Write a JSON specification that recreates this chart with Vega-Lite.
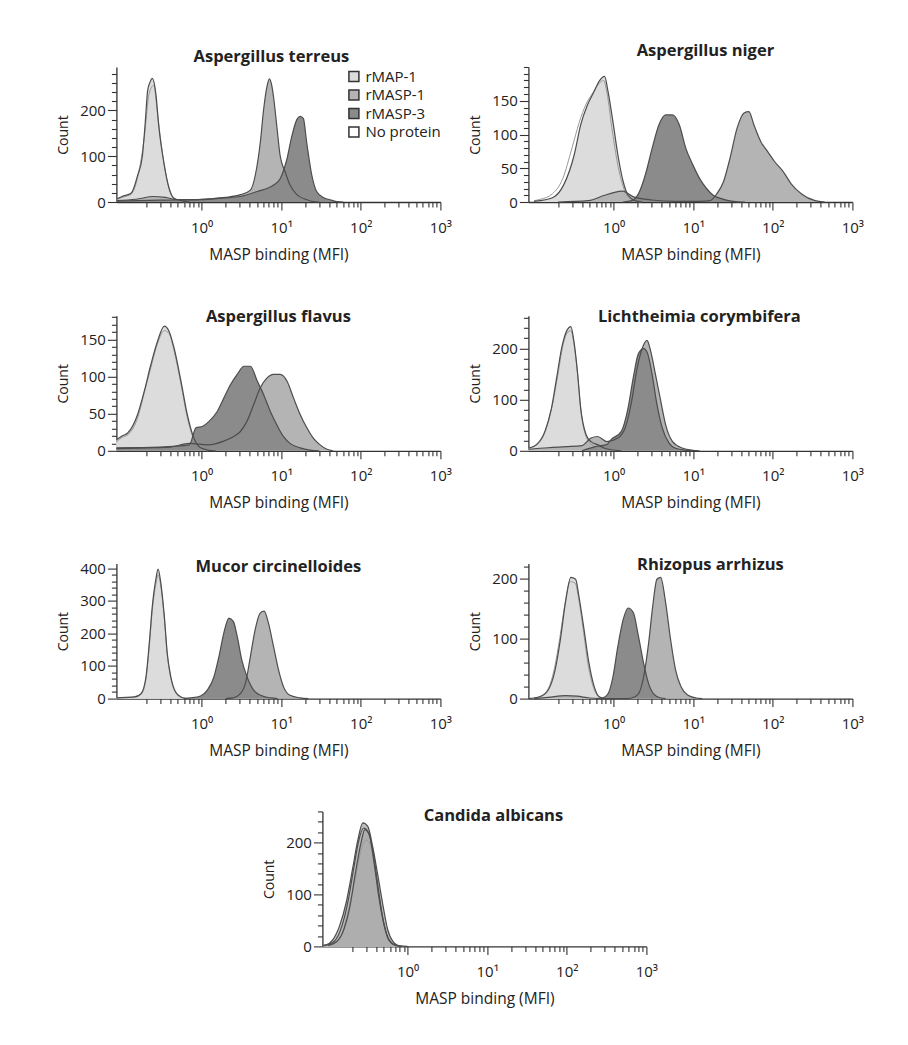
{
"$schema":"https://vega.github.io/schema/vega-lite/v6.json",
"padding":{"left":56,"top":42,"right":5,"bottom":5},
"background":"white",
"datasets":{
"terreus":[
{"series":"No protein","mfi":0.085,"count":5},{"series":"No protein","mfi":0.1,"count":10},{"series":"No protein","mfi":0.13,"count":17},{"series":"No protein","mfi":0.16,"count":60},{"series":"No protein","mfi":0.19,"count":140},{"series":"No protein","mfi":0.22,"count":238},{"series":"No protein","mfi":0.25,"count":255},{"series":"No protein","mfi":0.28,"count":190},{"series":"No protein","mfi":0.32,"count":110},{"series":"No protein","mfi":0.37,"count":45},{"series":"No protein","mfi":0.43,"count":12},{"series":"No protein","mfi":0.5,"count":3},{"series":"No protein","mfi":0.65,"count":0},
{"series":"rMAP-1","mfi":0.085,"count":6},{"series":"rMAP-1","mfi":0.1,"count":12},{"series":"rMAP-1","mfi":0.13,"count":19},{"series":"rMAP-1","mfi":0.157,"count":58},{"series":"rMAP-1","mfi":0.18,"count":100},{"series":"rMAP-1","mfi":0.195,"count":170},{"series":"rMAP-1","mfi":0.21,"count":244},{"series":"rMAP-1","mfi":0.225,"count":262},{"series":"rMAP-1","mfi":0.24,"count":270},{"series":"rMAP-1","mfi":0.266,"count":237},{"series":"rMAP-1","mfi":0.29,"count":165},{"series":"rMAP-1","mfi":0.34,"count":80},{"series":"rMAP-1","mfi":0.39,"count":30},{"series":"rMAP-1","mfi":0.45,"count":8},{"series":"rMAP-1","mfi":0.55,"count":3},{"series":"rMAP-1","mfi":0.7,"count":0},
{"series":"rMASP-1","mfi":0.085,"count":3},{"series":"rMASP-1","mfi":0.15,"count":6},{"series":"rMASP-1","mfi":0.25,"count":12},{"series":"rMASP-1","mfi":0.35,"count":10},{"series":"rMASP-1","mfi":0.5,"count":5},{"series":"rMASP-1","mfi":0.8,"count":5},{"series":"rMASP-1","mfi":1.2,"count":7},{"series":"rMASP-1","mfi":2,"count":10},{"series":"rMASP-1","mfi":3.07,"count":16},{"series":"rMASP-1","mfi":4.1,"count":26},{"series":"rMASP-1","mfi":4.73,"count":59},{"series":"rMASP-1","mfi":5.46,"count":130},{"series":"rMASP-1","mfi":6,"count":201},{"series":"rMASP-1","mfi":6.6,"count":251},{"series":"rMASP-1","mfi":7.1,"count":269},{"series":"rMASP-1","mfi":7.6,"count":255},{"series":"rMASP-1","mfi":8,"count":230},{"series":"rMASP-1","mfi":8.8,"count":166},{"series":"rMASP-1","mfi":9.7,"count":101},{"series":"rMASP-1","mfi":11.2,"count":66},{"series":"rMASP-1","mfi":12.9,"count":37},{"series":"rMASP-1","mfi":15.7,"count":16},{"series":"rMASP-1","mfi":21,"count":5},{"series":"rMASP-1","mfi":25.3,"count":1},{"series":"rMASP-1","mfi":30,"count":0},
{"series":"rMASP-3","mfi":0.085,"count":2},{"series":"rMASP-3","mfi":0.3,"count":4},{"series":"rMASP-3","mfi":0.97,"count":5},{"series":"rMASP-3","mfi":1.9,"count":9},{"series":"rMASP-3","mfi":3.07,"count":12},{"series":"rMASP-3","mfi":5,"count":23},{"series":"rMASP-3","mfi":8,"count":37},{"series":"rMASP-3","mfi":9.7,"count":51},{"series":"rMASP-3","mfi":11.8,"count":94},{"series":"rMASP-3","mfi":13.6,"count":144},{"series":"rMASP-3","mfi":15.7,"count":180},{"series":"rMASP-3","mfi":17.3,"count":187},{"series":"rMASP-3","mfi":19,"count":182},{"series":"rMASP-3","mfi":20.9,"count":130},{"series":"rMASP-3","mfi":24.2,"count":59},{"series":"rMASP-3","mfi":27.9,"count":23},{"series":"rMASP-3","mfi":33.8,"count":10},{"series":"rMASP-3","mfi":41,"count":5},{"series":"rMASP-3","mfi":50,"count":1},{"series":"rMASP-3","mfi":60,"count":0}
],
"niger":[
{"series":"No protein","mfi":0.1,"count":2},{"series":"No protein","mfi":0.12,"count":4},{"series":"No protein","mfi":0.17,"count":12},{"series":"No protein","mfi":0.23,"count":35},{"series":"No protein","mfi":0.3,"count":80},{"series":"No protein","mfi":0.37,"count":118},{"series":"No protein","mfi":0.45,"count":145},{"series":"No protein","mfi":0.55,"count":162},{"series":"No protein","mfi":0.65,"count":175},{"series":"No protein","mfi":0.75,"count":180},{"series":"No protein","mfi":0.83,"count":160},{"series":"No protein","mfi":0.95,"count":110},{"series":"No protein","mfi":1.1,"count":62},{"series":"No protein","mfi":1.3,"count":25},{"series":"No protein","mfi":1.5,"count":8},{"series":"No protein","mfi":1.8,"count":2},{"series":"No protein","mfi":2.2,"count":0},
{"series":"rMAP-1","mfi":0.1,"count":1},{"series":"rMAP-1","mfi":0.12,"count":2},{"series":"rMAP-1","mfi":0.175,"count":7},{"series":"rMAP-1","mfi":0.235,"count":25},{"series":"rMAP-1","mfi":0.32,"count":70},{"series":"rMAP-1","mfi":0.385,"count":114},{"series":"rMAP-1","mfi":0.47,"count":144},{"series":"rMAP-1","mfi":0.57,"count":164},{"series":"rMAP-1","mfi":0.66,"count":179},{"series":"rMAP-1","mfi":0.77,"count":186},{"series":"rMAP-1","mfi":0.85,"count":164},{"series":"rMAP-1","mfi":0.98,"count":119},{"series":"rMAP-1","mfi":1.13,"count":70},{"series":"rMAP-1","mfi":1.32,"count":30},{"series":"rMAP-1","mfi":1.52,"count":10},{"series":"rMAP-1","mfi":1.86,"count":2},{"series":"rMAP-1","mfi":2.3,"count":0},
{"series":"rMASP-1","mfi":0.2,"count":0},{"series":"rMASP-1","mfi":0.48,"count":2},{"series":"rMASP-1","mfi":0.77,"count":10},{"series":"rMASP-1","mfi":1,"count":14},{"series":"rMASP-1","mfi":1.3,"count":16},{"series":"rMASP-1","mfi":1.75,"count":8},{"series":"rMASP-1","mfi":3,"count":3},{"series":"rMASP-1","mfi":6,"count":1},{"series":"rMASP-1","mfi":12,"count":1},{"series":"rMASP-1","mfi":16.2,"count":2},{"series":"rMASP-1","mfi":19.7,"count":12},{"series":"rMASP-1","mfi":24,"count":30},{"series":"rMASP-1","mfi":29,"count":65},{"series":"rMASP-1","mfi":35.5,"count":109},{"series":"rMASP-1","mfi":43.5,"count":132},{"series":"rMASP-1","mfi":50,"count":134},{"series":"rMASP-1","mfi":58,"count":114},{"series":"rMASP-1","mfi":71,"count":89},{"series":"rMASP-1","mfi":87,"count":74},{"series":"rMASP-1","mfi":105,"count":60},{"series":"rMASP-1","mfi":135,"count":45},{"series":"rMASP-1","mfi":170,"count":27},{"series":"rMASP-1","mfi":230,"count":12},{"series":"rMASP-1","mfi":340,"count":2},{"series":"rMASP-1","mfi":450,"count":0},
{"series":"rMASP-3","mfi":1.3,"count":0},{"series":"rMASP-3","mfi":1.69,"count":2},{"series":"rMASP-3","mfi":2.05,"count":12},{"series":"rMASP-3","mfi":2.5,"count":40},{"series":"rMASP-3","mfi":3.04,"count":79},{"series":"rMASP-3","mfi":3.7,"count":114},{"series":"rMASP-3","mfi":4.5,"count":129},{"series":"rMASP-3","mfi":5.5,"count":129},{"series":"rMASP-3","mfi":6.7,"count":114},{"series":"rMASP-3","mfi":8.1,"count":79},{"series":"rMASP-3","mfi":9.9,"count":55},{"series":"rMASP-3","mfi":12,"count":35},{"series":"rMASP-3","mfi":14.7,"count":20},{"series":"rMASP-3","mfi":17.8,"count":10},{"series":"rMASP-3","mfi":24,"count":4},{"series":"rMASP-3","mfi":32,"count":1},{"series":"rMASP-3","mfi":45,"count":0}
],
"flavus":[
{"series":"No protein","mfi":0.085,"count":12},{"series":"No protein","mfi":0.1,"count":18},{"series":"No protein","mfi":0.12,"count":22},{"series":"No protein","mfi":0.16,"count":47},{"series":"No protein","mfi":0.19,"count":78},{"series":"No protein","mfi":0.23,"count":112},{"series":"No protein","mfi":0.28,"count":145},{"series":"No protein","mfi":0.34,"count":162},{"series":"No protein","mfi":0.39,"count":158},{"series":"No protein","mfi":0.45,"count":135},{"series":"No protein","mfi":0.55,"count":90},{"series":"No protein","mfi":0.66,"count":45},{"series":"No protein","mfi":0.8,"count":15},{"series":"No protein","mfi":0.97,"count":3},{"series":"No protein","mfi":1.2,"count":0},
{"series":"rMAP-1","mfi":0.085,"count":15},{"series":"rMAP-1","mfi":0.1,"count":20},{"series":"rMAP-1","mfi":0.118,"count":24},{"series":"rMAP-1","mfi":0.157,"count":49},{"series":"rMAP-1","mfi":0.19,"count":80},{"series":"rMAP-1","mfi":0.23,"count":116},{"series":"rMAP-1","mfi":0.28,"count":148},{"series":"rMAP-1","mfi":0.34,"count":168},{"series":"rMAP-1","mfi":0.39,"count":161},{"series":"rMAP-1","mfi":0.45,"count":139},{"series":"rMAP-1","mfi":0.55,"count":94},{"series":"rMAP-1","mfi":0.66,"count":49},{"series":"rMAP-1","mfi":0.8,"count":17},{"series":"rMAP-1","mfi":0.97,"count":4},{"series":"rMAP-1","mfi":1.2,"count":1},{"series":"rMAP-1","mfi":1.5,"count":0},
{"series":"rMASP-1","mfi":0.085,"count":3},{"series":"rMASP-1","mfi":0.2,"count":4},{"series":"rMASP-1","mfi":0.4,"count":5},{"series":"rMASP-1","mfi":0.7,"count":10},{"series":"rMASP-1","mfi":1.2,"count":8},{"series":"rMASP-1","mfi":1.9,"count":13},{"series":"rMASP-1","mfi":2.5,"count":19},{"series":"rMASP-1","mfi":3.07,"count":26},{"series":"rMASP-1","mfi":3.72,"count":40},{"series":"rMASP-1","mfi":4.5,"count":62},{"series":"rMASP-1","mfi":5.46,"count":85},{"series":"rMASP-1","mfi":6.6,"count":98},{"series":"rMASP-1","mfi":8,"count":103},{"series":"rMASP-1","mfi":9.7,"count":103},{"series":"rMASP-1","mfi":11.8,"count":94},{"series":"rMASP-1","mfi":14.3,"count":71},{"series":"rMASP-1","mfi":17.3,"count":49},{"series":"rMASP-1","mfi":21,"count":31},{"series":"rMASP-1","mfi":25.3,"count":17},{"series":"rMASP-1","mfi":30.8,"count":8},{"series":"rMASP-1","mfi":37.5,"count":2},{"series":"rMASP-1","mfi":45,"count":0},
{"series":"rMASP-3","mfi":0.085,"count":4},{"series":"rMASP-3","mfi":0.3,"count":5},{"series":"rMASP-3","mfi":0.7,"count":8},{"series":"rMASP-3","mfi":0.85,"count":31},{"series":"rMASP-3","mfi":1.03,"count":33},{"series":"rMASP-3","mfi":1.25,"count":40},{"series":"rMASP-3","mfi":1.57,"count":53},{"series":"rMASP-3","mfi":1.9,"count":71},{"series":"rMASP-3","mfi":2.3,"count":89},{"series":"rMASP-3","mfi":2.8,"count":103},{"series":"rMASP-3","mfi":3.4,"count":114},{"series":"rMASP-3","mfi":4.1,"count":114},{"series":"rMASP-3","mfi":5,"count":94},{"series":"rMASP-3","mfi":6,"count":76},{"series":"rMASP-3","mfi":7.3,"count":53},{"series":"rMASP-3","mfi":8.8,"count":35},{"series":"rMASP-3","mfi":10.7,"count":19},{"series":"rMASP-3","mfi":12.9,"count":10},{"series":"rMASP-3","mfi":17.3,"count":4},{"series":"rMASP-3","mfi":23,"count":1},{"series":"rMASP-3","mfi":30,"count":0}
],
"licht":[
{"series":"No protein","mfi":0.085,"count":5},{"series":"No protein","mfi":0.11,"count":12},{"series":"No protein","mfi":0.14,"count":40},{"series":"No protein","mfi":0.17,"count":90},{"series":"No protein","mfi":0.2,"count":150},{"series":"No protein","mfi":0.23,"count":205},{"series":"No protein","mfi":0.26,"count":230},{"series":"No protein","mfi":0.29,"count":235},{"series":"No protein","mfi":0.32,"count":205},{"series":"No protein","mfi":0.355,"count":145},{"series":"No protein","mfi":0.39,"count":78},{"series":"No protein","mfi":0.45,"count":28},{"series":"No protein","mfi":0.55,"count":10},{"series":"No protein","mfi":0.7,"count":3},{"series":"No protein","mfi":0.9,"count":0},
{"series":"rMAP-1","mfi":0.085,"count":5},{"series":"rMAP-1","mfi":0.107,"count":12},{"series":"rMAP-1","mfi":0.137,"count":38},{"series":"rMAP-1","mfi":0.166,"count":84},{"series":"rMAP-1","mfi":0.193,"count":144},{"series":"rMAP-1","mfi":0.224,"count":203},{"series":"rMAP-1","mfi":0.26,"count":236},{"series":"rMAP-1","mfi":0.29,"count":243},{"series":"rMAP-1","mfi":0.316,"count":216},{"series":"rMAP-1","mfi":0.35,"count":157},{"series":"rMAP-1","mfi":0.385,"count":84},{"series":"rMAP-1","mfi":0.45,"count":32},{"series":"rMAP-1","mfi":0.52,"count":18},{"series":"rMAP-1","mfi":0.63,"count":12},{"series":"rMAP-1","mfi":0.77,"count":5},{"series":"rMAP-1","mfi":0.93,"count":2},{"series":"rMAP-1","mfi":1.25,"count":0},
{"series":"rMASP-1","mfi":0.085,"count":3},{"series":"rMASP-1","mfi":0.15,"count":6},{"series":"rMASP-1","mfi":0.25,"count":8},{"series":"rMASP-1","mfi":0.4,"count":10},{"series":"rMASP-1","mfi":0.52,"count":25},{"series":"rMASP-1","mfi":0.63,"count":28},{"series":"rMASP-1","mfi":0.82,"count":18},{"series":"rMASP-1","mfi":1.13,"count":25},{"series":"rMASP-1","mfi":1.4,"count":45},{"series":"rMASP-1","mfi":1.69,"count":98},{"series":"rMASP-1","mfi":1.95,"count":157},{"series":"rMASP-1","mfi":2.25,"count":197},{"series":"rMASP-1","mfi":2.63,"count":216},{"series":"rMASP-1","mfi":2.9,"count":197},{"series":"rMASP-1","mfi":3.35,"count":150},{"series":"rMASP-1","mfi":3.9,"count":98},{"series":"rMASP-1","mfi":4.5,"count":51},{"series":"rMASP-1","mfi":5.5,"count":18},{"series":"rMASP-1","mfi":7.4,"count":5},{"series":"rMASP-1","mfi":9.9,"count":1},{"series":"rMASP-1","mfi":12,"count":0},
{"series":"rMASP-3","mfi":0.4,"count":0},{"series":"rMASP-3","mfi":0.63,"count":9},{"series":"rMASP-3","mfi":0.82,"count":12},{"series":"rMASP-3","mfi":0.93,"count":22},{"series":"rMASP-3","mfi":1.25,"count":38},{"series":"rMASP-3","mfi":1.52,"count":84},{"series":"rMASP-3","mfi":1.77,"count":144},{"series":"rMASP-3","mfi":2.05,"count":190},{"series":"rMASP-3","mfi":2.38,"count":200},{"series":"rMASP-3","mfi":2.63,"count":193},{"series":"rMASP-3","mfi":3.04,"count":150},{"series":"rMASP-3","mfi":3.5,"count":91},{"series":"rMASP-3","mfi":4.08,"count":45},{"series":"rMASP-3","mfi":4.97,"count":15},{"series":"rMASP-3","mfi":6,"count":5},{"series":"rMASP-3","mfi":8.1,"count":1},{"series":"rMASP-3","mfi":10,"count":0}
],
"mucor":[
{"series":"No protein","mfi":0.085,"count":2},{"series":"No protein","mfi":0.14,"count":4},{"series":"No protein","mfi":0.175,"count":14},{"series":"No protein","mfi":0.2,"count":60},{"series":"No protein","mfi":0.22,"count":160},{"series":"No protein","mfi":0.24,"count":270},{"series":"No protein","mfi":0.266,"count":350},{"series":"No protein","mfi":0.285,"count":380},{"series":"No protein","mfi":0.307,"count":345},{"series":"No protein","mfi":0.34,"count":245},{"series":"No protein","mfi":0.37,"count":135},{"series":"No protein","mfi":0.41,"count":62},{"series":"No protein","mfi":0.47,"count":18},{"series":"No protein","mfi":0.55,"count":4},{"series":"No protein","mfi":0.66,"count":0},
{"series":"rMAP-1","mfi":0.085,"count":2},{"series":"rMAP-1","mfi":0.097,"count":3},{"series":"rMAP-1","mfi":0.143,"count":5},{"series":"rMAP-1","mfi":0.173,"count":15},{"series":"rMAP-1","mfi":0.2,"count":67},{"series":"rMAP-1","mfi":0.22,"count":170},{"series":"rMAP-1","mfi":0.24,"count":283},{"series":"rMAP-1","mfi":0.266,"count":366},{"series":"rMAP-1","mfi":0.284,"count":397},{"series":"rMAP-1","mfi":0.307,"count":355},{"series":"rMAP-1","mfi":0.34,"count":252},{"series":"rMAP-1","mfi":0.37,"count":139},{"series":"rMAP-1","mfi":0.41,"count":67},{"series":"rMAP-1","mfi":0.47,"count":21},{"series":"rMAP-1","mfi":0.55,"count":5},{"series":"rMAP-1","mfi":0.66,"count":0},
{"series":"rMASP-1","mfi":2,"count":0},{"series":"rMASP-1","mfi":2.5,"count":2},{"series":"rMASP-1","mfi":3.07,"count":15},{"series":"rMASP-1","mfi":3.55,"count":46},{"series":"rMASP-1","mfi":4.1,"count":129},{"series":"rMASP-1","mfi":4.7,"count":211},{"series":"rMASP-1","mfi":5.46,"count":263},{"series":"rMASP-1","mfi":6.1,"count":268},{"series":"rMASP-1","mfi":6.9,"count":232},{"series":"rMASP-1","mfi":8,"count":160},{"series":"rMASP-1","mfi":9.25,"count":88},{"series":"rMASP-1","mfi":10.7,"count":36},{"series":"rMASP-1","mfi":12.9,"count":10},{"series":"rMASP-1","mfi":17.3,"count":2},{"series":"rMASP-1","mfi":22,"count":0},
{"series":"rMASP-3","mfi":0.6,"count":0},{"series":"rMASP-3","mfi":0.73,"count":2},{"series":"rMASP-3","mfi":0.97,"count":8},{"series":"rMASP-3","mfi":1.18,"count":26},{"series":"rMASP-3","mfi":1.43,"count":67},{"series":"rMASP-3","mfi":1.65,"count":129},{"series":"rMASP-3","mfi":1.9,"count":201},{"series":"rMASP-3","mfi":2.2,"count":247},{"series":"rMASP-3","mfi":2.5,"count":237},{"series":"rMASP-3","mfi":2.8,"count":191},{"series":"rMASP-3","mfi":3.2,"count":118},{"series":"rMASP-3","mfi":3.72,"count":67},{"series":"rMASP-3","mfi":4.5,"count":26},{"series":"rMASP-3","mfi":5.5,"count":10},{"series":"rMASP-3","mfi":7.3,"count":2},{"series":"rMASP-3","mfi":9,"count":0}
],
"rhizopus":[
{"series":"No protein","mfi":0.1,"count":0},{"series":"No protein","mfi":0.12,"count":4},{"series":"No protein","mfi":0.15,"count":16},{"series":"No protein","mfi":0.18,"count":50},{"series":"No protein","mfi":0.21,"count":100},{"series":"No protein","mfi":0.245,"count":158},{"series":"No protein","mfi":0.285,"count":195},{"series":"No protein","mfi":0.33,"count":192},{"series":"No protein","mfi":0.365,"count":165},{"series":"No protein","mfi":0.42,"count":110},{"series":"No protein","mfi":0.48,"count":55},{"series":"No protein","mfi":0.56,"count":18},{"series":"No protein","mfi":0.65,"count":3},{"series":"No protein","mfi":0.77,"count":0},
{"series":"rMAP-1","mfi":0.085,"count":0},{"series":"rMAP-1","mfi":0.118,"count":3},{"series":"rMAP-1","mfi":0.15,"count":14},{"series":"rMAP-1","mfi":0.184,"count":48},{"series":"rMAP-1","mfi":0.214,"count":98},{"series":"rMAP-1","mfi":0.248,"count":160},{"series":"rMAP-1","mfi":0.29,"count":202},{"series":"rMAP-1","mfi":0.333,"count":199},{"series":"rMAP-1","mfi":0.366,"count":171},{"series":"rMAP-1","mfi":0.425,"count":115},{"series":"rMAP-1","mfi":0.49,"count":59},{"series":"rMAP-1","mfi":0.57,"count":20},{"series":"rMAP-1","mfi":0.66,"count":3},{"series":"rMAP-1","mfi":0.77,"count":0},
{"series":"rMASP-1","mfi":0.1,"count":0},{"series":"rMASP-1","mfi":0.15,"count":2},{"series":"rMASP-1","mfi":0.25,"count":5},{"series":"rMASP-1","mfi":0.35,"count":4},{"series":"rMASP-1","mfi":0.5,"count":1},{"series":"rMASP-1","mfi":0.8,"count":0},{"series":"rMASP-1","mfi":1.4,"count":0},{"series":"rMASP-1","mfi":1.69,"count":1},{"series":"rMASP-1","mfi":2.05,"count":8},{"series":"rMASP-1","mfi":2.38,"count":36},{"series":"rMASP-1","mfi":2.75,"count":92},{"series":"rMASP-1","mfi":3.1,"count":154},{"series":"rMASP-1","mfi":3.5,"count":199},{"series":"rMASP-1","mfi":3.9,"count":202},{"series":"rMASP-1","mfi":4.5,"count":160},{"series":"rMASP-1","mfi":5.2,"count":98},{"series":"rMASP-1","mfi":6,"count":48},{"series":"rMASP-1","mfi":7,"count":20},{"series":"rMASP-1","mfi":8.5,"count":6},{"series":"rMASP-1","mfi":10.9,"count":1},{"series":"rMASP-1","mfi":13,"count":0},
{"series":"rMASP-3","mfi":0.6,"count":0},{"series":"rMASP-3","mfi":0.73,"count":1},{"series":"rMASP-3","mfi":0.85,"count":8},{"series":"rMASP-3","mfi":0.98,"count":36},{"series":"rMASP-3","mfi":1.13,"count":87},{"series":"rMASP-3","mfi":1.32,"count":132},{"series":"rMASP-3","mfi":1.52,"count":151},{"series":"rMASP-3","mfi":1.77,"count":143},{"series":"rMASP-3","mfi":2.05,"count":104},{"series":"rMASP-3","mfi":2.38,"count":59},{"series":"rMASP-3","mfi":2.75,"count":25},{"series":"rMASP-3","mfi":3.18,"count":8},{"series":"rMASP-3","mfi":3.9,"count":1},{"series":"rMASP-3","mfi":4.5,"count":0}
],
"candida":[
{"series":"No protein","mfi":0.09,"count":1},{"series":"No protein","mfi":0.12,"count":5},{"series":"No protein","mfi":0.15,"count":25},{"series":"No protein","mfi":0.18,"count":70},{"series":"No protein","mfi":0.22,"count":130},{"series":"No protein","mfi":0.26,"count":185},{"series":"No protein","mfi":0.3,"count":205},{"series":"No protein","mfi":0.34,"count":195},{"series":"No protein","mfi":0.4,"count":140},{"series":"No protein","mfi":0.46,"count":80},{"series":"No protein","mfi":0.52,"count":35},{"series":"No protein","mfi":0.6,"count":10},{"series":"No protein","mfi":0.72,"count":1},{"series":"No protein","mfi":0.9,"count":0},
{"series":"rMAP-1","mfi":0.09,"count":2},{"series":"rMAP-1","mfi":0.12,"count":10},{"series":"rMAP-1","mfi":0.15,"count":40},{"series":"rMAP-1","mfi":0.18,"count":90},{"series":"rMAP-1","mfi":0.21,"count":150},{"series":"rMAP-1","mfi":0.24,"count":200},{"series":"rMAP-1","mfi":0.28,"count":228},{"series":"rMAP-1","mfi":0.32,"count":220},{"series":"rMAP-1","mfi":0.37,"count":180},{"series":"rMAP-1","mfi":0.42,"count":120},{"series":"rMAP-1","mfi":0.48,"count":60},{"series":"rMAP-1","mfi":0.55,"count":22},{"series":"rMAP-1","mfi":0.65,"count":5},{"series":"rMAP-1","mfi":0.8,"count":0},
{"series":"rMASP-1","mfi":0.085,"count":2},{"series":"rMASP-1","mfi":0.095,"count":3},{"series":"rMASP-1","mfi":0.115,"count":13},{"series":"rMASP-1","mfi":0.14,"count":40},{"series":"rMASP-1","mfi":0.17,"count":86},{"series":"rMASP-1","mfi":0.205,"count":152},{"series":"rMASP-1","mfi":0.237,"count":205},{"series":"rMASP-1","mfi":0.274,"count":238},{"series":"rMASP-1","mfi":0.316,"count":231},{"series":"rMASP-1","mfi":0.365,"count":191},{"series":"rMASP-1","mfi":0.42,"count":139},{"series":"rMASP-1","mfi":0.49,"count":79},{"series":"rMASP-1","mfi":0.56,"count":33},{"series":"rMASP-1","mfi":0.65,"count":10},{"series":"rMASP-1","mfi":0.79,"count":1},{"series":"rMASP-1","mfi":1,"count":0},
{"series":"rMASP-3","mfi":0.1,"count":2},{"series":"rMASP-3","mfi":0.13,"count":10},{"series":"rMASP-3","mfi":0.16,"count":35},{"series":"rMASP-3","mfi":0.19,"count":80},{"series":"rMASP-3","mfi":0.22,"count":140},{"series":"rMASP-3","mfi":0.26,"count":200},{"series":"rMASP-3","mfi":0.29,"count":225},{"series":"rMASP-3","mfi":0.33,"count":215},{"series":"rMASP-3","mfi":0.38,"count":160},{"series":"rMASP-3","mfi":0.43,"count":100},{"series":"rMASP-3","mfi":0.5,"count":45},{"series":"rMASP-3","mfi":0.58,"count":12},{"series":"rMASP-3","mfi":0.7,"count":2},{"series":"rMASP-3","mfi":0.85,"count":0}
]
},
"center":true,
"spacing":44.8,
"resolve":{"scale":{"fill":"independent"},"legend":{"fill":"independent"}},
"vconcat":[
{"hconcat":[
{"width":324,"height":135,"data":{"name":"terreus"},
"title":{"text":"Aspergillus terreus","offset":1,"dx":-7},
"encoding":{
"x":{"field":"mfi","type":"quantitative","scale":{"type":"log","domain":[0.085,1000],"nice":false},"axis":{"title":"MASP binding (MFI)","values":[0.2,0.3,0.4,0.5,0.6,0.7,0.8,0.9,1,2,3,4,5,6,7,8,9,10,20,30,40,50,60,70,80,90,100,200,300,400,500,600,700,800,900,1000],"labelExpr":"datum.value == 1 ? '10⁰' : datum.value == 10 ? '10¹' : datum.value == 100 ? '10²' : datum.value == 1000 ? '10³' : ''","tickSize":{"condition":{"test":"datum.value == 1 || datum.value == 10 || datum.value == 100 || datum.value == 1000","value":8},"value":5},"labelOverlap":false,"labelFlush":false}},
"y":{"field":"count","type":"quantitative","stack":null,"scale":{"domain":[0,295],"nice":false},"axis":{"title":"Count","values":[0,20,40,60,80,100,120,140,160,180,200,220,240,260,280],"labelExpr":"datum.value % 100 === 0 ? datum.label : ''","tickSize":{"condition":{"test":"datum.value % 100 === 0","value":9},"value":5},"labelOverlap":false}}
},
"layer":[
{"transform":[{"filter":"datum.series === 'No protein'"}],"mark":"area","encoding":{"fill":{"field":"series","type":"nominal","scale":{"domain":["rMAP-1","rMASP-1","rMASP-3","No protein"],"range":["#dcdcdc","#b4b4b4","#8b8b8b","#ffffff"]},"legend":{"orient":"none","legendX":230,"legendY":2,"title":null,"symbolType":"square","symbolSize":100,"symbolStrokeColor":"#333333","symbolStrokeWidth":1.5,"symbolOpacity":1,"labelFontSize":15,"labelFont":"Open Sans","labelColor":"#222222","rowPadding":1.5,"labelOffset":4}}}},
{"transform":[{"filter":"datum.series === 'rMAP-1'"}],"mark":"area","encoding":{"fill":{"field":"series","type":"nominal","scale":{"domain":["rMAP-1","rMASP-1","rMASP-3","No protein"],"range":["#dcdcdc","#b4b4b4","#8b8b8b","#ffffff"]}}}},
{"transform":[{"filter":"datum.series === 'rMASP-1'"}],"mark":"area","encoding":{"fill":{"field":"series","type":"nominal","scale":{"domain":["rMAP-1","rMASP-1","rMASP-3","No protein"],"range":["#dcdcdc","#b4b4b4","#8b8b8b","#ffffff"]}}}},
{"transform":[{"filter":"datum.series === 'rMASP-3'"}],"mark":"area","encoding":{"fill":{"field":"series","type":"nominal","scale":{"domain":["rMAP-1","rMASP-1","rMASP-3","No protein"],"range":["#dcdcdc","#b4b4b4","#8b8b8b","#ffffff"]}}}},
{"transform":[{"filter":"datum.series === 'No protein'"}],"mark":{"type":"line","stroke":"#9a9a9a","strokeWidth":1},"encoding":{}},
{"transform":[{"filter":"datum.series !== 'No protein'"}],"mark":{"type":"line","stroke":"#4d4d4d"},"encoding":{"detail":{"field":"series","type":"nominal"}}}
]},
{"width":324,"height":135,"data":{"name":"niger"},
"title":{"text":"Aspergillus niger","offset":1,"dx":15},
"encoding":{
"x":{"field":"mfi","type":"quantitative","scale":{"type":"log","domain":[0.085,1000],"nice":false},"axis":{"title":"MASP binding (MFI)","values":[0.2,0.3,0.4,0.5,0.6,0.7,0.8,0.9,1,2,3,4,5,6,7,8,9,10,20,30,40,50,60,70,80,90,100,200,300,400,500,600,700,800,900,1000],"labelExpr":"datum.value == 1 ? '10⁰' : datum.value == 10 ? '10¹' : datum.value == 100 ? '10²' : datum.value == 1000 ? '10³' : ''","tickSize":{"condition":{"test":"datum.value == 1 || datum.value == 10 || datum.value == 100 || datum.value == 1000","value":8},"value":5},"labelOverlap":false,"labelFlush":false}},
"y":{"field":"count","type":"quantitative","stack":null,"scale":{"domain":[0,200],"nice":false},"axis":{"title":"Count","values":[0,10,20,30,40,50,60,70,80,90,100,110,120,130,140,150,160,170,180,190,200],"labelExpr":"datum.value % 50 === 0 && datum.value < 200 ? datum.label : ''","tickSize":{"condition":{"test":"datum.value % 50 === 0 && datum.value < 200","value":9},"value":5},"labelOverlap":false}}
},
"layer":[
{"transform":[{"filter":"datum.series === 'No protein'"}],"mark":{"type":"area","fill":"#ffffff"},"encoding":{}},
{"transform":[{"filter":"datum.series === 'rMAP-1'"}],"mark":{"type":"area","fill":"#dcdcdc"},"encoding":{}},
{"transform":[{"filter":"datum.series === 'rMASP-1'"}],"mark":{"type":"area","fill":"#b4b4b4"},"encoding":{}},
{"transform":[{"filter":"datum.series === 'rMASP-3'"}],"mark":{"type":"area","fill":"#8b8b8b"},"encoding":{}},
{"transform":[{"filter":"datum.series === 'No protein'"}],"mark":{"type":"line","stroke":"#9a9a9a","strokeWidth":1},"encoding":{}},
{"transform":[{"filter":"datum.series !== 'No protein'"}],"mark":{"type":"line","stroke":"#4d4d4d"},"encoding":{"detail":{"field":"series","type":"nominal"}}}
]}
],"spacing":16,"resolve":{"scale":{"fill":"independent"},"legend":{"fill":"independent"}}},
{"hconcat":[
{"width":324,"height":135,"data":{"name":"flavus"},
"title":{"text":"Aspergillus flavus","offset":-15,"dx":0},
"encoding":{
"x":{"field":"mfi","type":"quantitative","scale":{"type":"log","domain":[0.085,1000],"nice":false},"axis":{"title":"MASP binding (MFI)","values":[0.2,0.3,0.4,0.5,0.6,0.7,0.8,0.9,1,2,3,4,5,6,7,8,9,10,20,30,40,50,60,70,80,90,100,200,300,400,500,600,700,800,900,1000],"labelExpr":"datum.value == 1 ? '10⁰' : datum.value == 10 ? '10¹' : datum.value == 100 ? '10²' : datum.value == 1000 ? '10³' : ''","tickSize":{"condition":{"test":"datum.value == 1 || datum.value == 10 || datum.value == 100 || datum.value == 1000","value":8},"value":5},"labelOverlap":false,"labelFlush":false}},
"y":{"field":"count","type":"quantitative","stack":null,"scale":{"domain":[0,182],"nice":false},"axis":{"title":"Count","values":[0,10,20,30,40,50,60,70,80,90,100,110,120,130,140,150,160,170,180],"labelExpr":"datum.value % 50 === 0 ? datum.label : ''","tickSize":{"condition":{"test":"datum.value % 50 === 0","value":9},"value":5},"labelOverlap":false}}
},
"layer":[
{"transform":[{"filter":"datum.series === 'No protein'"}],"mark":{"type":"area","fill":"#ffffff"},"encoding":{}},
{"transform":[{"filter":"datum.series === 'rMAP-1'"}],"mark":{"type":"area","fill":"#dcdcdc"},"encoding":{}},
{"transform":[{"filter":"datum.series === 'rMASP-1'"}],"mark":{"type":"area","fill":"#b4b4b4"},"encoding":{}},
{"transform":[{"filter":"datum.series === 'rMASP-3'"}],"mark":{"type":"area","fill":"#8b8b8b"},"encoding":{}},
{"transform":[{"filter":"datum.series === 'No protein'"}],"mark":{"type":"line","stroke":"#9a9a9a","strokeWidth":1},"encoding":{}},
{"transform":[{"filter":"datum.series !== 'No protein'"}],"mark":{"type":"line","stroke":"#4d4d4d"},"encoding":{"detail":{"field":"series","type":"nominal"}}}
]},
{"width":324,"height":135,"data":{"name":"licht"},
"title":{"text":"Lichtheimia corymbifera","offset":-15,"dx":9},
"encoding":{
"x":{"field":"mfi","type":"quantitative","scale":{"type":"log","domain":[0.085,1000],"nice":false},"axis":{"title":"MASP binding (MFI)","values":[0.2,0.3,0.4,0.5,0.6,0.7,0.8,0.9,1,2,3,4,5,6,7,8,9,10,20,30,40,50,60,70,80,90,100,200,300,400,500,600,700,800,900,1000],"labelExpr":"datum.value == 1 ? '10⁰' : datum.value == 10 ? '10¹' : datum.value == 100 ? '10²' : datum.value == 1000 ? '10³' : ''","tickSize":{"condition":{"test":"datum.value == 1 || datum.value == 10 || datum.value == 100 || datum.value == 1000","value":8},"value":5},"labelOverlap":false,"labelFlush":false}},
"y":{"field":"count","type":"quantitative","stack":null,"scale":{"domain":[0,264],"nice":false},"axis":{"title":"Count","values":[0,20,40,60,80,100,120,140,160,180,200,220,240,260],"labelExpr":"datum.value % 100 === 0 ? datum.label : ''","tickSize":{"condition":{"test":"datum.value % 100 === 0","value":9},"value":5},"labelOverlap":false}}
},
"layer":[
{"transform":[{"filter":"datum.series === 'No protein'"}],"mark":{"type":"area","fill":"#ffffff"},"encoding":{}},
{"transform":[{"filter":"datum.series === 'rMAP-1'"}],"mark":{"type":"area","fill":"#dcdcdc"},"encoding":{}},
{"transform":[{"filter":"datum.series === 'rMASP-1'"}],"mark":{"type":"area","fill":"#b4b4b4"},"encoding":{}},
{"transform":[{"filter":"datum.series === 'rMASP-3'"}],"mark":{"type":"area","fill":"#8b8b8b"},"encoding":{}},
{"transform":[{"filter":"datum.series === 'No protein'"}],"mark":{"type":"line","stroke":"#9a9a9a","strokeWidth":1},"encoding":{}},
{"transform":[{"filter":"datum.series !== 'No protein'"}],"mark":{"type":"line","stroke":"#4d4d4d"},"encoding":{"detail":{"field":"series","type":"nominal"}}}
]}
],"spacing":16},
{"hconcat":[
{"width":324,"height":135,"data":{"name":"mucor"},
"title":{"text":"Mucor circinelloides","offset":-14,"dx":0},
"encoding":{
"x":{"field":"mfi","type":"quantitative","scale":{"type":"log","domain":[0.085,1000],"nice":false},"axis":{"title":"MASP binding (MFI)","values":[0.2,0.3,0.4,0.5,0.6,0.7,0.8,0.9,1,2,3,4,5,6,7,8,9,10,20,30,40,50,60,70,80,90,100,200,300,400,500,600,700,800,900,1000],"labelExpr":"datum.value == 1 ? '10⁰' : datum.value == 10 ? '10¹' : datum.value == 100 ? '10²' : datum.value == 1000 ? '10³' : ''","tickSize":{"condition":{"test":"datum.value == 1 || datum.value == 10 || datum.value == 100 || datum.value == 1000","value":8},"value":5},"labelOverlap":false,"labelFlush":false}},
"y":{"field":"count","type":"quantitative","stack":null,"scale":{"domain":[0,414],"nice":false},"axis":{"title":"Count","values":[0,20,40,60,80,100,120,140,160,180,200,220,240,260,280,300,320,340,360,380,400],"labelExpr":"datum.value % 100 === 0 ? datum.label : ''","tickSize":{"condition":{"test":"datum.value % 100 === 0","value":9},"value":5},"labelOverlap":false}}
},
"layer":[
{"transform":[{"filter":"datum.series === 'No protein'"}],"mark":{"type":"area","fill":"#ffffff"},"encoding":{}},
{"transform":[{"filter":"datum.series === 'rMAP-1'"}],"mark":{"type":"area","fill":"#dcdcdc"},"encoding":{}},
{"transform":[{"filter":"datum.series === 'rMASP-1'"}],"mark":{"type":"area","fill":"#b4b4b4"},"encoding":{}},
{"transform":[{"filter":"datum.series === 'rMASP-3'"}],"mark":{"type":"area","fill":"#8b8b8b"},"encoding":{}},
{"transform":[{"filter":"datum.series === 'No protein'"}],"mark":{"type":"line","stroke":"#9a9a9a","strokeWidth":1},"encoding":{}},
{"transform":[{"filter":"datum.series !== 'No protein'"}],"mark":{"type":"line","stroke":"#4d4d4d"},"encoding":{"detail":{"field":"series","type":"nominal"}}}
]},
{"width":324,"height":135,"data":{"name":"rhizopus"},
"title":{"text":"Rhizopus arrhizus","offset":-14,"dx":20},
"encoding":{
"x":{"field":"mfi","type":"quantitative","scale":{"type":"log","domain":[0.085,1000],"nice":false},"axis":{"title":"MASP binding (MFI)","values":[0.2,0.3,0.4,0.5,0.6,0.7,0.8,0.9,1,2,3,4,5,6,7,8,9,10,20,30,40,50,60,70,80,90,100,200,300,400,500,600,700,800,900,1000],"labelExpr":"datum.value == 1 ? '10⁰' : datum.value == 10 ? '10¹' : datum.value == 100 ? '10²' : datum.value == 1000 ? '10³' : ''","tickSize":{"condition":{"test":"datum.value == 1 || datum.value == 10 || datum.value == 100 || datum.value == 1000","value":8},"value":5},"labelOverlap":false,"labelFlush":false}},
"y":{"field":"count","type":"quantitative","stack":null,"scale":{"domain":[0,225],"nice":false},"axis":{"title":"Count","values":[0,20,40,60,80,100,120,140,160,180,200,220],"labelExpr":"datum.value % 100 === 0 ? datum.label : ''","tickSize":{"condition":{"test":"datum.value % 100 === 0","value":9},"value":5},"labelOverlap":false}}
},
"layer":[
{"transform":[{"filter":"datum.series === 'No protein'"}],"mark":{"type":"area","fill":"#ffffff"},"encoding":{}},
{"transform":[{"filter":"datum.series === 'rMAP-1'"}],"mark":{"type":"area","fill":"#dcdcdc"},"encoding":{}},
{"transform":[{"filter":"datum.series === 'rMASP-1'"}],"mark":{"type":"area","fill":"#b4b4b4"},"encoding":{}},
{"transform":[{"filter":"datum.series === 'rMASP-3'"}],"mark":{"type":"area","fill":"#8b8b8b"},"encoding":{}},
{"transform":[{"filter":"datum.series === 'No protein'"}],"mark":{"type":"line","stroke":"#9a9a9a","strokeWidth":1},"encoding":{}},
{"transform":[{"filter":"datum.series !== 'No protein'"}],"mark":{"type":"line","stroke":"#4d4d4d"},"encoding":{"detail":{"field":"series","type":"nominal"}}}
]}
],"spacing":16},
{"width":324,"height":135,"data":{"name":"candida"},
"title":{"text":"Candida albicans","offset":-20,"dx":9},
"encoding":{
"x":{"field":"mfi","type":"quantitative","scale":{"type":"log","domain":[0.085,1000],"nice":false},"axis":{"title":"MASP binding (MFI)","values":[0.2,0.3,0.4,0.5,0.6,0.7,0.8,0.9,1,2,3,4,5,6,7,8,9,10,20,30,40,50,60,70,80,90,100,200,300,400,500,600,700,800,900,1000],"labelExpr":"datum.value == 1 ? '10⁰' : datum.value == 10 ? '10¹' : datum.value == 100 ? '10²' : datum.value == 1000 ? '10³' : ''","tickSize":{"condition":{"test":"datum.value == 1 || datum.value == 10 || datum.value == 100 || datum.value == 1000","value":8},"value":5},"labelOverlap":false,"labelFlush":false}},
"y":{"field":"count","type":"quantitative","stack":null,"scale":{"domain":[0,260],"nice":false},"axis":{"title":"Count","values":[0,20,40,60,80,100,120,140,160,180,200,220,240,260],"labelExpr":"datum.value % 100 === 0 ? datum.label : ''","tickSize":{"condition":{"test":"datum.value % 100 === 0","value":9},"value":5},"labelOverlap":false}}
},
"layer":[
{"transform":[{"filter":"datum.series === 'No protein'"}],"mark":{"type":"area","fill":"#ffffff"},"encoding":{}},
{"transform":[{"filter":"datum.series === 'rMAP-1'"}],"mark":{"type":"area","fill":"#dcdcdc"},"encoding":{}},
{"transform":[{"filter":"datum.series === 'rMASP-3'"}],"mark":{"type":"area","fill":"#8b8b8b"},"encoding":{}},
{"transform":[{"filter":"datum.series === 'rMASP-1'"}],"mark":{"type":"area","fill":"#b4b4b4","fillOpacity":0.85},"encoding":{}},
{"transform":[{"filter":"datum.series === 'No protein'"}],"mark":{"type":"line","stroke":"#9a9a9a","strokeWidth":1},"encoding":{}},
{"transform":[{"filter":"datum.series !== 'No protein'"}],"mark":{"type":"line","stroke":"#4d4d4d"},"encoding":{"detail":{"field":"series","type":"nominal"}}}
]}
],
"config":{
"font":"Open Sans",
"view":{"stroke":null},
"axis":{"grid":false,"domainColor":"#333333","tickColor":"#333333","domainWidth":1.3,"tickWidth":1.1,"labelFont":"Open Sans","labelFontSize":15,"labelColor":"#222222","titleFont":"Open Sans","titleFontWeight":"normal","titleColor":"#222222"},
"axisX":{"labelPadding":10,"titlePadding":12,"titleFontSize":15.5},
"axisY":{"labelPadding":2,"titlePadding":9,"titleFontSize":14},
"title":{"font":"Open Sans","fontSize":16.5,"fontWeight":"bold","color":"#222222","anchor":"middle","frame":"group"},
"area":{"interpolate":"monotone","clip":true},
"line":{"interpolate":"monotone","clip":true,"strokeWidth":1.2}
}
}
